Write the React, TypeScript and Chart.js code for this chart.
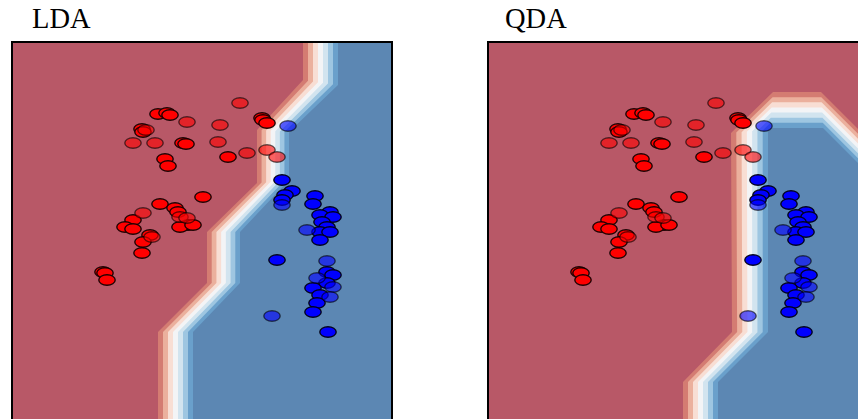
import React, { useEffect, useRef } from "react";
import { Chart, registerables } from "chart.js";

Chart.register(...registerables);

// ---- titles ----
const PANEL_TITLES = ["LDA", "QDA"];

// ---- axis ranges (data units, y grows downward) ----
const X_RANGE = [0, 382];
const Y_RANGE = [0, 400];

// ---- samples (same data in both panels) ----
const RED_TRAIN_X = [147, 156, 159, 251, 252, 256, 131, 132, 172, 175, 154, 157, 217, 192, 149, 122, 164, 167, 177, 169, 182, 114, 122, 139, 132, 131, 92, 94, 96];
const RED_TRAIN_Y = [73, 72, 74, 77, 79, 82, 88, 91, 102, 103, 118, 125, 116, 156, 163, 179, 167, 171, 184, 186, 184, 186, 188, 194, 201, 212, 231, 232, 239];
const RED_TEST_X = [229, 176, 209, 135, 122, 144, 207, 236, 256, 266, 132, 169, 176, 141];
const RED_TEST_Y = [62, 81, 84, 89, 102, 102, 101, 112, 109, 116, 172, 176, 177, 196];
const BLUE_TRAIN_X = [271, 281, 274, 271, 304, 302, 319, 309, 322, 311, 316, 309, 319, 309, 266, 316, 322, 316, 302, 309, 306, 302, 317];
const BLUE_TRAIN_Y = [139, 150, 154, 159, 155, 163, 171, 174, 176, 181, 186, 191, 191, 199, 219, 231, 234, 242, 247, 254, 262, 271, 291];
const BLUE_TEST_X = [277, 271, 296, 316, 306, 322, 319, 261];
const BLUE_TEST_Y = [85, 164, 189, 220, 237, 246, 256, 275];

// ---- decision boundary edges (red side edge and blue side edge of the transition strip) ----
const LDA_EDGE_RED_X = [292, 292, 246, 246, 196, 196, 147, 147];
const LDA_EDGE_RED_Y = [-10, 39, 89, 142, 191, 242, 291, 420];
const LDA_EDGE_BLUE_X = [327, 327, 278, 278, 229, 229, 182, 182];
const LDA_EDGE_BLUE_Y = [-10, 44, 91, 139, 191, 242, 291, 420];

const QDA_EDGE_RED_X = [196, 196, 245, 244, 286, 334, 371, 413];
const QDA_EDGE_RED_Y = [420, 341, 291, 92, 51, 51, 88, 130];
const QDA_EDGE_BLUE_X = [231, 231, 281, 281, 283, 336, 371, 413];
const QDA_EDGE_BLUE_Y = [420, 341, 291, 89, 87, 87, 122, 164];

// ---- colours ----
const RED_REGION = "rgb(184,88,103)";
const BLUE_REGION = "rgb(92,135,179)";
const BAND_COLORS = [
  "rgb(212,124,114)",
  "rgb(235,176,157)",
  "rgb(248,222,212)",
  "rgb(243,244,246)",
  "rgb(210,228,239)",
  "rgb(158,198,225)",
  "rgb(106,160,203)",
];

const FAR_X = 470;

type Pt = { x: number; y: number };

function zipPts(xs: number[], ys: number[]): Pt[] {
  return xs.map((x, i) => ({ x, y: ys[i] }));
}

function levelPolygon(ax: number[], ay: number[], bx: number[], by: number[], t: number): Pt[] {
  const pts = ax.map((x, i) => ({ x: x + (bx[i] - x) * t, y: ay[i] + (by[i] - ay[i]) * t }));
  const first = pts[0];
  const last = pts[pts.length - 1];
  return [...pts, { x: FAR_X, y: last.y }, { x: FAR_X, y: first.y }, { x: first.x, y: first.y }];
}

function makeMarker(fill: string, stroke: string): HTMLCanvasElement {
  const c = document.createElement("canvas");
  c.width = 22;
  c.height = 16;
  const g = c.getContext("2d")!;
  g.beginPath();
  g.ellipse(11, 8, 8.2, 5.3, 0, 0, Math.PI * 2);
  g.fillStyle = fill;
  g.fill();
  g.lineWidth = 1.4;
  g.strokeStyle = stroke;
  g.stroke();
  return c;
}

const framePlugin = {
  id: "panelFrame",
  beforeDraw(chart: any) {
    const { ctx, chartArea: a } = chart;
    ctx.save();
    ctx.fillStyle = RED_REGION;
    ctx.fillRect(a.left, a.top, a.right - a.left, a.bottom - a.top);
    ctx.restore();
  },
  afterDraw(chart: any) {
    const { ctx, chartArea: a } = chart;
    ctx.save();
    ctx.strokeStyle = "#000";
    ctx.lineWidth = 2;
    ctx.strokeRect(a.left + 1, a.top + 1, a.right - a.left - 2, a.bottom - a.top - 2);
    ctx.restore();
  },
};

function buildConfig(ax: number[], ay: number[], bx: number[], by: number[]) {
  const markers = {
    redTrain: makeMarker("rgb(255,0,0)", "rgba(20,0,0,0.95)"),
    redTest: makeMarker("rgba(255,0,0,0.6)", "rgba(0,0,0,0.6)"),
    blueTrain: makeMarker("rgb(0,0,255)", "rgba(0,0,20,0.95)"),
    blueTest: makeMarker("rgba(0,0,255,0.6)", "rgba(0,0,0,0.6)"),
  };
  const nBands = BAND_COLORS.length;
  const bandSets: any[] = [];
  for (let k = 0; k <= nBands; k++) {
    bandSets.push({
      type: "line",
      data: levelPolygon(ax, ay, bx, by, k / nBands),
      backgroundColor: k < nBands ? BAND_COLORS[k] : BLUE_REGION,
      borderColor: "rgba(0,0,0,0)",
      borderWidth: 0,
      pointRadius: 0,
      tension: 0,
      fill: "shape",
      order: 100 - k,
    });
  }
  const scatterSet = (xs: number[], ys: number[], img: HTMLCanvasElement, order: number) => ({
    type: "scatter",
    data: zipPts(xs, ys),
    pointStyle: img,
    pointRadius: 6,
    order,
  });
  return {
    type: "scatter",
    data: {
      datasets: [
        ...bandSets,
        scatterSet(RED_TRAIN_X, RED_TRAIN_Y, markers.redTrain, 2),
        scatterSet(BLUE_TRAIN_X, BLUE_TRAIN_Y, markers.blueTrain, 2),
        scatterSet(RED_TEST_X, RED_TEST_Y, markers.redTest, 1),
        scatterSet(BLUE_TEST_X, BLUE_TEST_Y, markers.blueTest, 1),
      ],
    },
    options: {
      animation: false,
      responsive: false,
      devicePixelRatio: 1,
      events: [],
      layout: { padding: 0, autoPadding: false },
      plugins: { legend: { display: false }, tooltip: { enabled: false }, title: { display: false } },
      scales: {
        x: { type: "linear", min: X_RANGE[0], max: X_RANGE[1], display: false },
        y: { type: "linear", min: Y_RANGE[0], max: Y_RANGE[1], reverse: true, display: false },
      },
    },
    plugins: [framePlugin],
  };
}

export default function App() {
  const ldaRef = useRef<HTMLCanvasElement>(null);
  const qdaRef = useRef<HTMLCanvasElement>(null);

  useEffect(() => {
    const c1 = new Chart(ldaRef.current!, buildConfig(LDA_EDGE_RED_X, LDA_EDGE_RED_Y, LDA_EDGE_BLUE_X, LDA_EDGE_BLUE_Y) as any);
    const c2 = new Chart(qdaRef.current!, buildConfig(QDA_EDGE_RED_X, QDA_EDGE_RED_Y, QDA_EDGE_BLUE_X, QDA_EDGE_BLUE_Y) as any);
    return () => {
      c1.destroy();
      c2.destroy();
    };
  }, []);

  const titleStyle = (left: number): React.CSSProperties => ({
    position: "absolute",
    left,
    top: 5,
    fontFamily: '"Liberation Serif", "Times New Roman", serif',
    fontSize: "28.5px",
    lineHeight: 1,
    color: "#000",
    whiteSpace: "nowrap",
  });

  return (
    <div style={{ position: "fixed", left: 0, top: 0, width: 858, height: 419, overflow: "hidden", background: "#fff" }}>
      <div style={titleStyle(32)}>{PANEL_TITLES[0]}</div>
      <div style={titleStyle(505)}>{PANEL_TITLES[1]}</div>
      <canvas ref={ldaRef} width={382} height={400} style={{ position: "absolute", left: 11, top: 41, width: 382, height: 400 }} />
      <canvas ref={qdaRef} width={382} height={400} style={{ position: "absolute", left: 487, top: 41, width: 382, height: 400 }} />
    </div>
  );
}
